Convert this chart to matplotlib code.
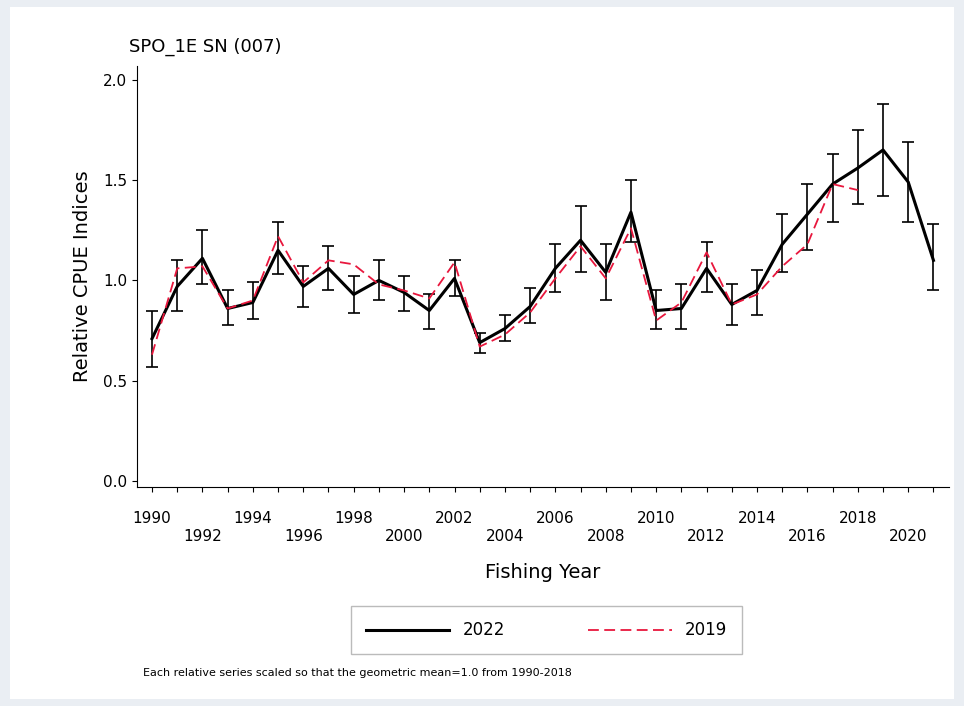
import matplotlib
matplotlib.use("Agg")
import matplotlib.pyplot as plt
import numpy as np

years = list(range(1990, 2022))
idx2022 = [0.71,0.97,1.11,0.86,0.89,1.15,0.97,1.06,0.93,1.00,0.94,0.85,1.01,0.69,0.76,0.87,1.06,1.20,1.04,1.34,0.85,0.86,1.06,0.88,0.95,1.18,1.33,1.48,1.56,1.65,1.49,1.10]
lo2022 = [0.57,0.85,0.98,0.78,0.81,1.03,0.87,0.95,0.84,0.90,0.85,0.76,0.92,0.64,0.70,0.79,0.94,1.04,0.90,1.19,0.76,0.76,0.94,0.78,0.83,1.04,1.15,1.29,1.38,1.42,1.29,0.95]
hi2022 = [0.85,1.10,1.25,0.95,0.99,1.29,1.07,1.17,1.02,1.10,1.02,0.93,1.10,0.74,0.83,0.96,1.18,1.37,1.18,1.50,0.95,0.98,1.19,0.98,1.05,1.33,1.48,1.63,1.75,1.88,1.69,1.28]
years2019 = list(range(1990, 2019))
idx2019 = [0.63,1.06,1.07,0.86,0.90,1.22,0.99,1.10,1.08,0.98,0.95,0.91,1.09,0.67,0.73,0.84,1.01,1.17,1.01,1.26,0.80,0.89,1.14,0.88,0.93,1.07,1.18,1.48,1.45]

fig = plt.figure(figsize=(9.64, 7.06), dpi=100, facecolor="#eaeef3")
bg = fig.add_axes([0.01, 0.01, 0.98, 0.98])
bg.set_facecolor("white"); bg.set_xticks([]); bg.set_yticks([])
for s in bg.spines.values(): s.set_visible(False)

ax = fig.add_axes([0.142, 0.31, 0.842, 0.597])
ax.set_facecolor("white")
err = [np.array(idx2022)-np.array(lo2022), np.array(hi2022)-np.array(idx2022)]
ax.errorbar(years, idx2022, yerr=err, fmt="none", ecolor="black", elinewidth=1.2, capsize=4, capthick=1.2)
l1, = ax.plot(years, idx2022, color="black", lw=2.2)
l2, = ax.plot(years2019, idx2019, color="#e8173d", lw=1.3, dashes=(6, 3))
ax.set_ylim(-0.03, 2.07)
ax.set_xlim(1989.4, 2021.6)
ax.set_yticks([0, 0.5, 1.0, 1.5, 2.0])
ax.set_yticklabels(["0.0", "0.5", "1.0", "1.5", "2.0"])
ax.set_xticks(years)
labs = []
for y in years:
    if y % 4 == 2: labs.append(str(y))
    elif y % 2 == 0: labs.append("\n" + str(y))
    else: labs.append("")
ax.set_xticklabels(labs, fontsize=11)
ax.tick_params(axis="x", pad=14)
ax.tick_params(axis="y", labelsize=11)
for s in ["top", "right"]: ax.spines[s].set_visible(False)
ax.set_ylabel("Relative CPUE Indices", fontsize=14, labelpad=8)
ax.set_xlabel("Fishing Year", fontsize=14, labelpad=14)
ax.set_title("SPO_1E SN (007)", loc="left", fontsize=13, x=-0.01, pad=10)
leg = fig.legend([l1, l2], ["2022", "2019"], loc="center", bbox_to_anchor=(0.567, 0.107),
                 ncol=2, frameon=True, fancybox=False, edgecolor="#aaaaaa", fontsize=12,
                 handlelength=5, columnspacing=5, borderpad=0.9)
fig.text(0.148, 0.042, "Each relative series scaled so that the geometric mean=1.0 from 1990-2018", fontsize=8)
fig.savefig("out.png", dpi=100, facecolor=fig.get_facecolor())
